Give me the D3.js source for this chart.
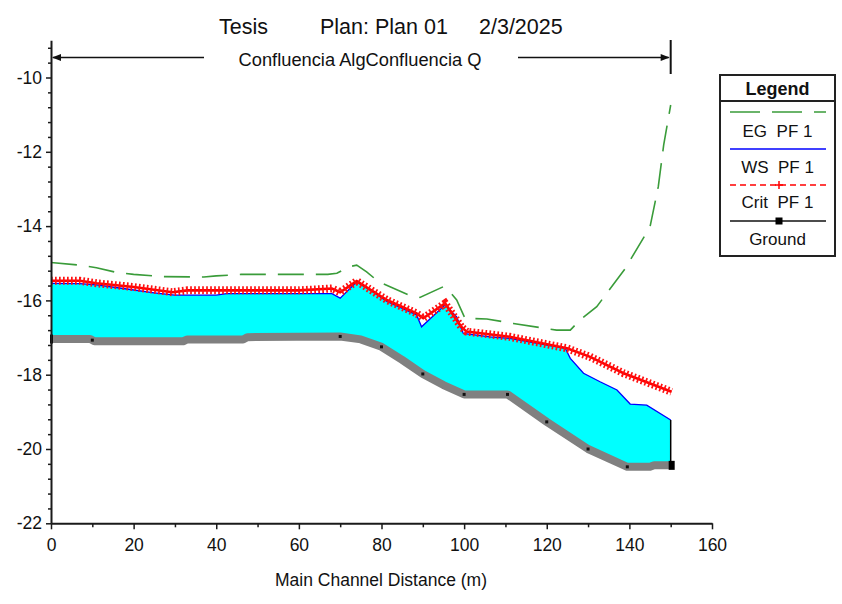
<!DOCTYPE html>
<html>
<head>
<meta charset="utf-8">
<script src="https://cdn.jsdelivr.net/npm/d3@7"></script>
<style>
  body { margin: 0; background: #ffffff; }
  svg text { font-family: Arial, "Liberation Sans", sans-serif; fill: #111; }
</style>
</head>
<body>
<svg id="chart" width="842" height="604"></svg>
<script>
// ---- Profile data (distance along main channel in m, elevation in m) ----
const groundDist = [0, 9.5, 10.5, 32, 33, 46.5, 47.5, 70, 75, 80, 85, 90, 95, 100, 110.5, 120, 130, 139.5, 145, 146, 150];
const groundElev = [-17.04, -17.04, -17.1, -17.1, -17.05, -17.05, -16.99, -16.97, -17.05, -17.25, -17.6, -17.98, -18.28, -18.53, -18.53, -19.27, -20.0, -20.48, -20.48, -20.44, -20.44];

const wsDist = [0, 7, 11, 17.5, 25, 30, 40, 42.5, 60, 68, 70, 74, 78, 81.3, 88.5, 89.7, 95.4, 98.2, 99.8, 106.3, 111, 124.5, 125.7, 128.9, 132.9, 137, 140.2, 144.2, 150];
const wsElev = [-15.54, -15.55, -15.58, -15.68, -15.8, -15.86, -15.86, -15.82, -15.82, -15.82, -15.94, -15.5, -15.77, -16.03, -16.39, -16.71, -16.12, -16.44, -16.89, -16.98, -17.02, -17.29, -17.56, -17.96, -18.19, -18.41, -18.79, -18.82, -19.22];

const critDist = [0, 7, 11, 20, 29.4, 33, 60, 68, 70, 74, 81.3, 88.5, 90.1, 95.4, 99.3, 100.6, 111, 124.9, 130.5, 138.6, 150.2];
const critElev = [-15.47, -15.47, -15.54, -15.64, -15.78, -15.73, -15.73, -15.68, -15.78, -15.48, -15.99, -16.35, -16.48, -16.08, -16.71, -16.84, -16.98, -17.29, -17.52, -17.96, -18.46];

const egDist = [0, 7, 11, 16, 20, 27, 37, 40, 46, 67, 69.2, 72, 74, 76.4, 79.3, 86.5, 89.3, 95, 96.2, 98.2, 100.2, 105.5, 111.9, 122.4, 125.7, 128, 132.1, 139, 145, 147, 148.3, 150];
const egElev = [-14.98, -15.05, -15.12, -15.25, -15.3, -15.36, -15.37, -15.34, -15.3, -15.3, -15.27, -15.1, -15.05, -15.23, -15.5, -15.85, -15.92, -15.63, -15.72, -15.99, -16.48, -16.5, -16.62, -16.8, -16.8, -16.53, -16.17, -15.14, -14.02, -12.94, -11.82, -10.74];

// cross-section stations marked on the ground line
const stationDist = [10, 70, 80, 90, 100, 110.5, 120, 130, 139.5];

// ---- Axis ticks and labels ----
const xMajorTicks = [0, 20, 40, 60, 80, 100, 120, 140, 160];
const xMinorTicks = [10, 30, 50, 70, 90, 110, 130, 150];
const yMajorTicks = [-22, -20, -18, -16, -14, -12, -10];
const yMinorTicks = [-21.6, -21.2, -20.8, -20.4, -19.6, -19.2, -18.8, -18.4, -17.6, -17.2, -16.8, -16.4,
                     -15.6, -15.2, -14.8, -14.4, -13.6, -13.2, -12.8, -12.4, -11.6, -11.2, -10.8, -10.4, -9.6, -9.2];

const titleParts = ["Tesis", "Plan: Plan 01", "2/3/2025"];
const reachLabel = "Confluencia AlgConfluencia Q";
const xAxisTitle = "Main Channel Distance (m)";
const legendLabels = ["EG  PF 1", "WS  PF 1", "Crit  PF 1", "Ground"];

const zip = (a, b) => a.map((d, i) => [d, b[i]]);
const ground = zip(groundDist, groundElev);
const ws = zip(wsDist, wsElev);
const crit = zip(critDist, critElev);
const eg = zip(egDist, egElev);

const svg = d3.select("#chart");

const x = d3.scaleLinear().domain([0, 160]).range([51, 712]);
const y = d3.scaleLinear().domain([-22, -9]).range([523.3, 40.35]);

const line = d3.line().x(d => x(d[0])).y(d => y(d[1]));
const groundAt = d3.scaleLinear().domain(groundDist).range(groundElev);

// ---- Water body: between water surface and ground ----
const waterPoly = ws.concat(ground.slice().reverse());
svg.append("path")
  .attr("d", line(waterPoly) + "Z")
  .attr("fill", "#00ffff")
  .attr("stroke", "none");

// ---- Ground ----
svg.append("path")
  .attr("d", line(ground))
  .attr("fill", "none")
  .attr("stroke", "#808080")
  .attr("stroke-width", 8)
  .attr("stroke-linejoin", "round");

svg.selectAll("rect.station")
  .data(stationDist)
  .enter().append("rect")
  .attr("class", "station")
  .attr("x", d => x(d) - 1.5)
  .attr("y", d => y(groundAt(d)) - 1.5)
  .attr("width", 3).attr("height", 3)
  .attr("fill", "#111");

// end stations
svg.append("rect")
  .attr("x", x(0) - 1).attr("y", y(groundElev[0]) - 4.5)
  .attr("width", 3).attr("height", 9).attr("fill", "#000");
svg.append("rect")
  .attr("x", x(150) - 2).attr("y", y(groundElev[groundElev.length - 1]) - 4.5)
  .attr("width", 6).attr("height", 9).attr("fill", "#000");

// ---- Water surface ----
svg.append("path")
  .attr("d", line(ws))
  .attr("fill", "none")
  .attr("stroke", "#0000ff")
  .attr("stroke-width", 1.3);

// downstream boundary edge
svg.append("line")
  .attr("x1", x(150)).attr("x2", x(150))
  .attr("y1", y(wsElev[wsElev.length - 1])).attr("y2", y(groundElev[groundElev.length - 1]))
  .attr("stroke", "#000").attr("stroke-width", 1.5);

// ---- Critical depth: red line with dense "+" markers ----
svg.append("path")
  .attr("d", line(crit))
  .attr("fill", "none")
  .attr("stroke", "#ff0000")
  .attr("stroke-width", 2.6);
svg.append("path")
  .attr("d", line(crit))
  .attr("fill", "none")
  .attr("stroke", "#ff1010")
  .attr("stroke-width", 8)
  .attr("stroke-dasharray", "1.7 2.3");

// ---- Energy grade line ----
svg.append("path")
  .attr("d", line(eg))
  .attr("fill", "none")
  .attr("stroke", "#3a9c3a")
  .attr("stroke-width", 1.6)
  .attr("stroke-dasharray", "26 12");

// ---- Axes ----
const axisColor = "#1a1a1a";
const plainFmt = d => String(d);
function styleAxis(sel, showLabels) {
  sel.selectAll("path.domain").attr("stroke", axisColor).attr("stroke-width", 2);
  sel.selectAll(".tick line").attr("stroke", axisColor).attr("stroke-width", 1.5);
  sel.selectAll(".tick text").attr("font-size", 17.5).attr("fill", "#111")
     .style("font-family", "Arial, 'Liberation Sans', sans-serif");
  if (!showLabels) sel.selectAll(".tick text").remove();
}

const yMinor = svg.append("g").attr("transform", `translate(${x(0)},0)`)
  .call(d3.axisLeft(y).tickValues(yMinorTicks).tickSize(3).tickSizeOuter(0));
yMinor.select("path.domain").remove();
styleAxis(yMinor, false);

const yAxis = svg.append("g").attr("transform", `translate(${x(0)},0)`)
  .call(d3.axisLeft(y).tickValues(yMajorTicks).tickFormat(plainFmt).tickSize(5).tickSizeOuter(0).tickPadding(4));
styleAxis(yAxis, true);

const xMinor = svg.append("g").attr("transform", `translate(0,${y(-22)})`)
  .call(d3.axisBottom(x).tickValues(xMinorTicks).tickSize(4).tickSizeOuter(0));
xMinor.select("path.domain").remove();
styleAxis(xMinor, false);

const xAxis = svg.append("g").attr("transform", `translate(0,${y(-22)})`)
  .call(d3.axisBottom(x).tickValues(xMajorTicks).tickFormat(plainFmt).tickSize(6).tickSizeOuter(0).tickPadding(9));
styleAxis(xAxis, true);

svg.append("text")
  .attr("x", 381).attr("y", 586)
  .attr("text-anchor", "middle")
  .attr("font-size", 17.5)
  .text(xAxisTitle);

// ---- Title ----
const titleX = [219, 320, 479];
svg.selectAll("text.title")
  .data(titleParts)
  .enter().append("text")
  .attr("class", "title")
  .attr("x", (d, i) => titleX[i]).attr("y", 34)
  .attr("font-size", 21.5)
  .text(d => d);

// ---- Reach label with extent arrows ----
const arrowY = 57.5;
svg.append("text")
  .attr("x", 360).attr("y", 66)
  .attr("text-anchor", "middle")
  .attr("font-size", 18.3)
  .text(reachLabel);

svg.append("line")
  .attr("x1", x(0) + 2).attr("x2", 204).attr("y1", arrowY).attr("y2", arrowY)
  .attr("stroke", "#111").attr("stroke-width", 1.5);
svg.append("path")
  .attr("d", `M${x(0) + 1},${arrowY} l9,-3.5 l0,7 Z`)
  .attr("fill", "#111");

svg.append("line")
  .attr("x1", 518).attr("x2", x(150) - 2).attr("y1", arrowY).attr("y2", arrowY)
  .attr("stroke", "#111").attr("stroke-width", 1.5);
svg.append("path")
  .attr("d", `M${x(150) - 1},${arrowY} l-9,-3.5 l0,7 Z`)
  .attr("fill", "#111");
svg.append("line")
  .attr("x1", x(150)).attr("x2", x(150)).attr("y1", 40).attr("y2", 74)
  .attr("stroke", "#111").attr("stroke-width", 2);

// ---- Legend ----
const lg = svg.append("g");
const lgX = 720, lgW = 115, lgTop = 75, lgBottom = 256;
lg.append("rect")
  .attr("x", lgX).attr("y", lgTop).attr("width", lgW).attr("height", lgBottom - lgTop)
  .attr("fill", "#fff").attr("stroke", "#222").attr("stroke-width", 2);
lg.append("line")
  .attr("x1", lgX).attr("x2", lgX + lgW).attr("y1", 101).attr("y2", 101)
  .attr("stroke", "#222").attr("stroke-width", 2);
lg.append("text")
  .attr("x", lgX + lgW / 2).attr("y", 95)
  .attr("text-anchor", "middle")
  .attr("font-size", 18).attr("font-weight", "bold")
  .text("Legend");

const symY = [112, 149, 185, 221];
const txtY = [137, 173, 208, 245];
const sx1 = 730, sx2 = 826, scx = 779;

lg.append("line").attr("x1", sx1).attr("x2", sx2).attr("y1", symY[0]).attr("y2", symY[0])
  .attr("stroke", "#3a9c3a").attr("stroke-width", 1.6).attr("stroke-dasharray", "30 12");
lg.append("line").attr("x1", sx1).attr("x2", sx2).attr("y1", symY[1]).attr("y2", symY[1])
  .attr("stroke", "#0000ff").attr("stroke-width", 1.5);
lg.append("line").attr("x1", sx1).attr("x2", sx2).attr("y1", symY[2]).attr("y2", symY[2])
  .attr("stroke", "#ff0000").attr("stroke-width", 1.5).attr("stroke-dasharray", "6 4");
lg.append("path").attr("d", `M${scx - 4},${symY[2]} h8 M${scx},${symY[2] - 4} v8`)
  .attr("stroke", "#ff0000").attr("stroke-width", 1.5);
lg.append("line").attr("x1", sx1).attr("x2", sx2).attr("y1", symY[3]).attr("y2", symY[3])
  .attr("stroke", "#111").attr("stroke-width", 1.3);
lg.append("rect").attr("x", scx - 3.5).attr("y", symY[3] - 3.5).attr("width", 7).attr("height", 7)
  .attr("fill", "#000");

lg.selectAll("text.item")
  .data(legendLabels)
  .enter().append("text")
  .attr("class", "item")
  .attr("x", lgX + lgW / 2).attr("y", (d, i) => txtY[i])
  .attr("text-anchor", "middle")
  .attr("font-size", 17)
  .style("white-space", "pre")
  .text(d => d);
</script>
</body>
</html>
